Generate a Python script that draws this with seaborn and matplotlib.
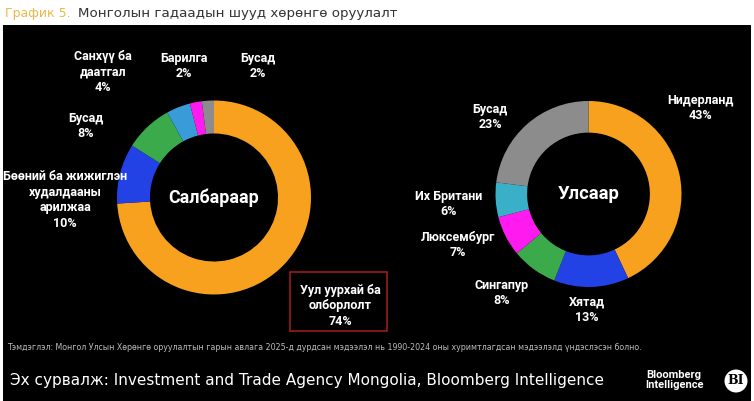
import matplotlib
matplotlib.use("Agg")
import matplotlib.pyplot as plt
import seaborn as sns
from matplotlib.patches import Rectangle, Ellipse

# ---------------- data ----------------
sector_labels = ["Уул уурхай ба\nолборлолт", "Бөөний ба жижиглэн\nхудалдааны\nарилжаа",
                 "Бусад", "Санхүү ба\nдаатгал", "Барилга", "Бусад"]
sector_values = [74, 10, 8, 4, 2, 2]
sector_colors = ["#F7A11F", "#2242E6", "#3BAA4B", "#3A9BD9", "#FF1BF0", "#8C8C8C"]

country_labels = ["Нидерланд", "Хятад", "Сингапур", "Люксембург", "Их Британи", "Бусад"]
country_values = [43, 13, 8, 7, 6, 23]
country_colors = ["#F7A11F", "#2242E6", "#3BAA4B", "#FF1BF0", "#3AAFC8", "#8C8C8C"]

center_titles = ["Салбараар", "Улсаар"]

# ---------------- layout ----------------
W, H = 754, 401
sns.set_theme(style="white")
plt.rcParams["font.family"] = ["Roboto", "DejaVu Sans"]

fig = plt.figure(figsize=(W / 100, H / 100), dpi=100, facecolor="white")

def fx(x):
    return x / W

def fy(y):
    return 1 - y / H

# black panel
fig.patches.append(Rectangle((fx(3), 0), fx(748), fy(25), transform=fig.transFigure,
                             facecolor="black", edgecolor="none", zorder=-5))

def donut(cx, cy, r, values, colors, title, tsize):
    ax = fig.add_axes([fx(cx - r), fy(cy + r), fx(2 * r), (2 * r) / H])
    ax.set_zorder(2)
    ax.pie(values, colors=colors, startangle=90, counterclock=False,
           radius=1, wedgeprops=dict(width=0.34, edgecolor="none"))
    ax.set_xlim(-1, 1)
    ax.set_ylim(-1, 1)
    ax.set_aspect("auto")
    ax.axis("off")
    ax.patch.set_alpha(0)
    ax.text(0, 0, title, ha="center", va="center", color="white",
            fontsize=tsize, fontweight="bold")
    return ax

donut(214, 197.5, 97, sector_values, sector_colors, center_titles[0], 12.8)
donut(588.5, 194, 93, country_values, country_colors, center_titles[1], 13.2)

label_style = dict(ha="center", va="center", color="white", fontsize=9.0,
                   fontweight="bold", linespacing=1.25, zorder=5)

sector_pos = [(340, 306), (65, 200), (86, 126), (103, 72), (184, 66), (258, 66)]
for lab, val, (x, y) in zip(sector_labels, sector_values, sector_pos):
    fig.text(fx(x), fy(y), f"{lab}\n{val}%", **label_style)

# red box around the mining label
fig.patches.append(Rectangle((fx(290), fy(331)), fx(97), (331 - 272) / H,
                             transform=fig.transFigure, facecolor="none",
                             edgecolor="#9B1B1B", linewidth=1.2, zorder=5))

country_pos = [(700, 108), (587, 310), (502, 293), (458, 245), (449, 204), (490, 117)]
for lab, val, (x, y) in zip(country_labels, country_values, country_pos):
    fig.text(fx(x), fy(y), f"{lab}\n{val}%", **label_style)

# title
fig.text(fx(5), fy(13), "График 5.", color="#E9B949", fontsize=9.0, ha="left", va="center",
         family=["DejaVu Sans"])
fig.text(fx(78), fy(13), "Монголын гадаадын шууд хөрөнгө оруулалт", color="#333333",
         fontsize=9.6, ha="left", va="center", family=["DejaVu Sans"])

# footnote and source
fig.text(fx(7), fy(348), "Тэмдэглэл: Монгол Улсын Хөрөнгө оруулалтын гарын авлага 2025-д дурдсан "
         "мэдээлэл нь 1990-2024 оны хуримтлагдсан мэдээлэлд үндэслэсэн болно.",
         color="#BBBBBB", fontsize=5.7, ha="left", va="center",
         family=["DejaVu Sans"])
fig.text(fx(10), fy(381), "Эх сурвалж: Investment and Trade Agency Mongolia, Bloomberg Intelligence",
         color="white", fontsize=11, ha="left", va="center",
         family=["DejaVu Sans"])

fig.text(fx(674), fy(380), "Bloomberg\nIntelligence", color="white", fontsize=8.0,
         fontweight="bold", ha="center", va="center", linespacing=1.1)
fig.patches.append(Ellipse((fx(736), fy(381)), 23 / W, 23 / H, transform=fig.transFigure,
                           facecolor="white", edgecolor="none", zorder=5))
fig.text(fx(736), fy(381), "BI", color="black", fontsize=9, fontweight="bold",
         ha="center", va="center", zorder=6, family=["DejaVu Serif"])

fig.savefig("out.png", dpi=100, facecolor="white")
